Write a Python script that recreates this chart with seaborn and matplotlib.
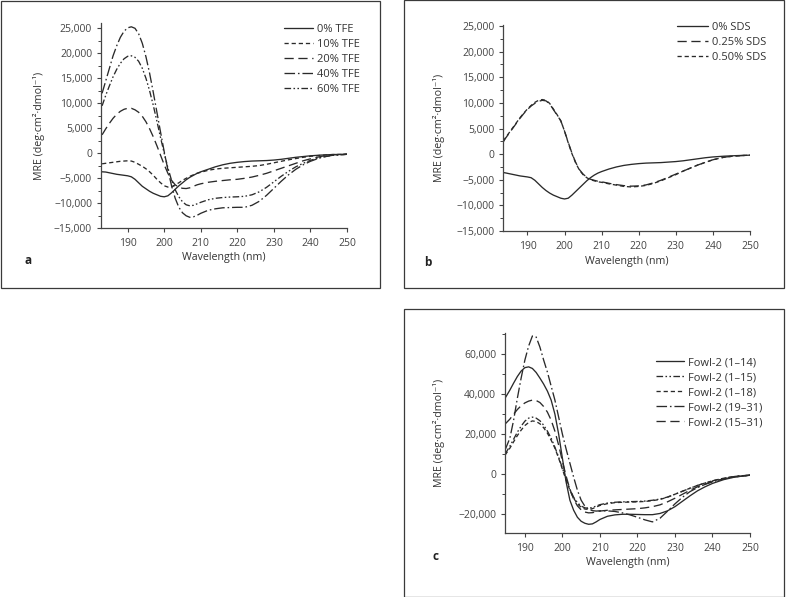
import matplotlib
matplotlib.use("Agg")
import matplotlib.pyplot as plt
import seaborn as sns
import pandas as pd
from matplotlib.patches import Rectangle
from matplotlib.ticker import FuncFormatter, MultipleLocator

# ---------------- data ----------------
wl_a = [183] + list(range(184, 211)) + list(range(212, 241, 2)) + [243, 246, 250]
tfe_0 = [-3700, -3750, -3900, -4050, -4200, -4300, -4400, -4500, -4700, -5200, -5900, -6600, -7100, -7600,
         -8000, -8300, -8600, -8700, -8500, -7900, -7200, -6500, -5900, -5300, -4800, -4400, -4000, -3700,
         -3200, -2700, -2300, -2000, -1800, -1650, -1550, -1500, -1450, -1350, -1200, -1000, -800, -650,
         -500, -350, -250, -200]
tfe_10 = [-2100, -2000, -1900, -1800, -1700, -1600, -1550, -1500, -1550, -1800, -2200, -2600, -3100, -3700,
          -4400, -5200, -5900, -6500, -6750, -6700, -6300, -5900, -5400, -5000, -4600, -4300, -4000, -3800,
          -3400, -3150, -3000, -2900, -2800, -2700, -2600, -2450, -2200, -1900, -1600, -1300, -1050, -800,
          -600, -400, -250, -200]
tfe_20 = [3700, 4900, 6000, 7000, 7800, 8400, 8800, 9000, 9000, 8700, 8200, 7400, 6300, 4900,
          3300, 1500, -400, -2300, -4000, -5400, -6300, -6800, -7000, -7050, -6900, -6600, -6300, -6100,
          -5800, -5600, -5450, -5300, -5200, -5000, -4750, -4400, -4000, -3500, -3000, -2500, -2000, -1500,
          -1100, -600, -300, -200]
tfe_40 = [12000, 14500, 17000, 19500, 21500, 23200, 24400, 25100, 25300, 25000, 23900, 22000, 19300, 16000,
          12200, 8200, 4200, 300, -3300, -6500, -9000, -10800, -11900, -12500, -12800, -12700, -12400, -12000,
          -11400, -11100, -10900, -10850, -10800, -10800, -10400, -9600, -8400, -7000, -5600, -4300, -3200, -2300,
          -1600, -800, -400, -200]
tfe_60 = [9500, 11600, 13500, 15300, 16800, 18000, 18900, 19400, 19500, 19200, 18400, 17000, 15000, 12500,
          9600, 6400, 3100, 0, -2900, -5400, -7300, -8700, -9700, -10300, -10500, -10400, -10100, -9800,
          -9300, -9000, -8850, -8750, -8700, -8600, -8300, -7700, -6800, -5700, -4600, -3600, -2700, -2000,
          -1400, -800, -400, -200]
labels_a = ["0% TFE", "10% TFE", "20% TFE", "40% TFE", "60% TFE"]

wl_b = [183.5] + list(range(184, 211)) + list(range(212, 241, 2)) + [243, 246, 250]
sds_0 = [-3600, -3650, -3800, -3950, -4100, -4250, -4350, -4450, -4600, -5100, -5800, -6500, -7100, -7600,
         -8000, -8300, -8600, -8750, -8600, -8000, -7300, -6600, -5900, -5200, -4600, -4100, -3700, -3400,
         -2900, -2500, -2200, -2000, -1850, -1750, -1700, -1650, -1550, -1450, -1300, -1100, -900, -700,
         -550, -400, -300, -200]
sds_025 = [2400, 3000, 4000, 5000, 6000, 7000, 7900, 8700, 9400, 9900, 10300, 10500, 10400, 9800,
           8700, 7600, 6500, 4500, 2300, 200, -1600, -3000, -3900, -4500, -4900, -5100, -5300, -5400,
           -5700, -5950, -6150, -6250, -6200, -6000, -5600, -5100, -4500, -3900, -3300, -2700, -2100, -1600,
           -1100, -600, -350, -200]
sds_050 = [2500, 3100, 4100, 5100, 6100, 7100, 8000, 8800, 9500, 10100, 10500, 10650, 10500, 9900,
           8800, 7700, 6500, 4500, 2200, 100, -1700, -3100, -4000, -4600, -5000, -5200, -5400, -5500,
           -5800, -6050, -6300, -6400, -6300, -6100, -5700, -5200, -4600, -4000, -3300, -2700, -2100, -1600,
           -1100, -600, -350, -200]
labels_b = ["0% SDS", "0.25% SDS", "0.50% SDS"]

wl_c = [184.7] + list(range(186, 211)) + list(range(212, 241, 2)) + [243, 246, 250]
fowl_1_14 = [37900, 42000, 45500, 48800, 51500, 53200, 53600, 52800, 50800, 48000, 45000, 41500, 37000,
             30000, 20000, 8000, -4000, -13000, -18000, -21500, -23500, -24500, -25000, -24800, -23800, -22600,
             -21000, -20300, -20000, -20000, -20100, -20200, -20200, -19600, -18300, -16200, -13500, -10800,
             -8300, -6300, -4600, -2700, -1400, -500]
fowl_1_15 = [10000, 14000, 17500, 21000, 24000, 26500, 28000, 28500, 28000, 26700, 24500, 21500, 18000,
             13500, 8500, 3000, -2500, -7500, -11500, -14200, -15900, -16800, -17000, -16600, -15900, -15200,
             -14400, -14000, -13800, -13700, -13600, -13400, -13000, -12400, -11400, -10000, -8500, -7000,
             -5600, -4400, -3300, -2000, -1100, -400]
fowl_1_18 = [9500, 13000, 16200, 19300, 22000, 24300, 25800, 26600, 26300, 25200, 23200, 20500, 17000,
             13000, 8000, 2500, -3000, -8000, -12000, -14800, -16500, -17400, -17600, -17200, -16400, -15600,
             -14700, -14200, -14000, -13900, -13800, -13600, -13200, -12600, -11500, -10000, -8500, -7000,
             -5600, -4400, -3300, -2000, -1100, -400]
fowl_19_31 = [12000, 18000, 27000, 38000, 48000, 57000, 64000, 69000, 68500, 63500, 57000, 51000, 44000,
              37000, 28500, 20000, 12500, 5500, -1500, -8000, -13000, -16000, -17500, -18200, -18400, -18300,
              -18300, -18600, -19300, -20300, -21500, -22800, -23800, -22000, -18500, -14800, -11500, -8700,
              -6700, -5100, -3800, -2300, -1300, -500]
fowl_15_31 = [25000, 27500, 30000, 32300, 34200, 35600, 36500, 37000, 36800, 35800, 33800, 31000, 27000,
              21500, 14500, 6500, -1000, -7500, -12500, -15800, -17800, -18900, -19300, -19200, -18800, -18400,
              -18000, -17800, -17600, -17400, -17200, -16800, -16200, -15300, -13800, -12000, -10000, -8000,
              -6300, -4900, -3700, -2300, -1300, -500]
labels_c = ["Fowl-2 (1\u201314)", "Fowl-2 (1\u201315)", "Fowl-2 (1\u201318)", "Fowl-2 (19\u201331)", "Fowl-2 (15\u201331)"]

# ---------------- styles ----------------
SOLID = "-"
SHORT = (0, (3.2, 2.2))
LONG = (0, (7, 3.5))
DASHDOT = (0, (8, 2.2, 1.2, 2.2))
DASHDOTDOT = (0, (5, 1.8, 1.2, 1.8, 1.2, 1.8))
INK = "#2a2a2a"
TXT = "#333333"

sns.set_theme(style="white")
plt.rcParams["font.family"] = ["Open Sans", "DejaVu Sans"]
plt.rcParams["text.color"] = TXT
plt.rcParams["axes.labelcolor"] = TXT
plt.rcParams["xtick.color"] = "#444444"
plt.rcParams["ytick.color"] = "#444444"

W, H = 787, 597
fig = plt.figure(figsize=(W / 100, H / 100), dpi=100)
fig.patch.set_facecolor("white")


def box(x0, y0, x1, y1):
    fig.add_artist(Rectangle((x0 / W, 1 - y1 / H), (x1 - x0) / W, (y1 - y0) / H,
                             transform=fig.transFigure, fill=False, lw=0.9, ec="#3a3a3a"))


def make_ax(left, top, right, bottom):
    return fig.add_axes([left / W, 1 - bottom / H, (right - left) / W, (bottom - top) / H])


fmt = FuncFormatter(lambda v, p: f"{v:,.0f}".replace("-", "\u2212"))


def style_ax(ax, xlim, ylim, ymaj, ymin, ylab_x, xlab_y):
    ax.set_xlim(*xlim)
    ax.set_ylim(*ylim)
    ax.set_facecolor("white")
    for s in ["top", "right"]:
        ax.spines[s].set_visible(False)
    for s in ["left", "bottom"]:
        ax.spines[s].set_color("#444444")
        ax.spines[s].set_linewidth(0.9)
    ax.xaxis.set_major_locator(MultipleLocator(10))
    ax.yaxis.set_major_locator(MultipleLocator(ymaj))
    ax.yaxis.set_minor_locator(MultipleLocator(ymin))
    ax.yaxis.set_major_formatter(fmt)
    ax.tick_params(axis="both", which="major", direction="out", length=3.2, width=0.8,
                   labelsize=7.5, pad=3.2, bottom=True, left=True)
    ax.tick_params(axis="y", which="minor", direction="out", length=2.2, width=0.7, left=True)
    ax.tick_params(axis="x", which="major", pad=4.0)
    ax.set_xlabel("Wavelength (nm)", fontsize=7.7)
    ax.set_ylabel("MRE (deg\u00b7cm\u00b2\u00b7dmol\u207b\u00b9)", fontsize=7.7)
    ax.yaxis.set_label_coords(ylab_x, 0.5)
    ax.xaxis.set_label_coords(0.5, xlab_y)
    ax.grid(False)


def draw(ax, wl, series, labels, styles):
    for vals, lab, ls in zip(series, labels, styles):
        df = pd.DataFrame({"wl": wl, "mre": vals})
        sns.lineplot(data=df, x="wl", y="mre", ax=ax, color=INK, linewidth=0.95,
                     linestyle=ls, label=lab, errorbar=None, sort=False)


# frames
box(0.5, 0.5, 380, 287.5)
box(403.5, 0.5, 783.5, 288)
box(403.5, 308.5, 783.5, 596.5)

LEG = dict(frameon=False, fontsize=8.0, handletextpad=0.35, labelspacing=0.36,
           borderaxespad=0, borderpad=0, loc="upper left")

# ---- panel a ----
ax_a = make_ax(101, 23, 347, 228.3)
draw(ax_a, wl_a, [tfe_0, tfe_10, tfe_20, tfe_40, tfe_60], labels_a,
     [SOLID, SHORT, LONG, DASHDOT, DASHDOTDOT])
style_ax(ax_a, (182.7, 250), (-15000, 26060), 5000, 2500, -0.228, -0.115)
ax_a.legend(bbox_to_anchor=((284 - 101) / 246, 0.995), handlelength=2.6, **LEG)

# ---- panel b ----
ax_b = make_ax(503.3, 25, 750, 231)
draw(ax_b, wl_b, [sds_0, sds_025, sds_050], labels_b, [SOLID, LONG, SHORT])
style_ax(ax_b, (183.5, 250), (-15000, 25200), 5000, 2500, -0.235, -0.12)
ax_b.legend(bbox_to_anchor=((677 - 503.3) / 246.7, 1.015), handlelength=2.8, **LEG)

# ---- panel c ----
ax_c = make_ax(505, 333, 750, 533.3)
draw(ax_c, wl_c, [fowl_1_14, fowl_1_15, fowl_1_18, fowl_19_31, fowl_15_31], labels_c,
     [SOLID, DASHDOTDOT, SHORT, DASHDOT, LONG])
style_ax(ax_c, (184.7, 250), (-29500, 70500), 20000, 10000, -0.245, -0.12)
ax_c.legend(bbox_to_anchor=((656 - 505) / 245, (533.3 - 357) / 200.3), handlelength=2.5, **LEG)

# panel letters
fig.text(28 / W, 1 - 260 / H, "a", fontsize=8.5, fontweight="bold", ha="center", va="center", color="#222222")
fig.text(428 / W, 1 - 262 / H, "b", fontsize=8.5, fontweight="bold", ha="center", va="center", color="#222222")
fig.text(435 / W, 1 - 557 / H, "c", fontsize=8.5, fontweight="bold", ha="center", va="center", color="#222222")

fig.savefig("out.png", dpi=100, facecolor="white")
